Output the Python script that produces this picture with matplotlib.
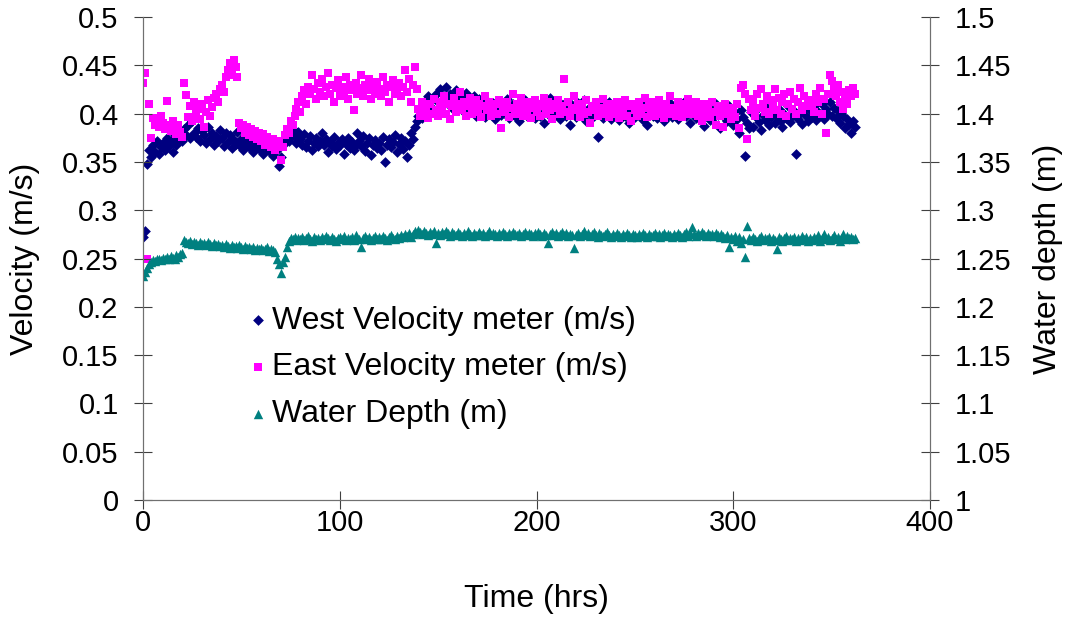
import matplotlib.pyplot as plt
import numpy as np

plt.rcParams['font.family'] = ['Liberation Sans', 'DejaVu Sans']

# time in hours, one reading per hour
hours = np.arange(0, 363)

west_vel = [
    0.272, 0.278, 0.348, 0.362, 0.355, 0.368, 0.360, 0.372, 0.358, 0.365,
    0.370, 0.362, 0.375, 0.366, 0.372, 0.360, 0.378, 0.368, 0.374, 0.380,
    0.372, 0.384, 0.378, 0.388, 0.375, 0.392, 0.380, 0.376, 0.385, 0.372,
    0.382, 0.378, 0.370, 0.386, 0.374, 0.380, 0.368, 0.377, 0.372, 0.383,
    0.375, 0.366, 0.380, 0.371, 0.378, 0.364, 0.373, 0.369, 0.381, 0.367,
    0.374, 0.362, 0.370, 0.376, 0.365, 0.372, 0.360, 0.368, 0.374, 0.363,
    0.369, 0.358, 0.366, 0.372, 0.361, 0.367, 0.356, 0.364, 0.362, 0.346,
    0.355, 0.368, 0.375, 0.380, 0.372, 0.378, 0.384, 0.376, 0.370, 0.381,
    0.374, 0.368, 0.379, 0.365, 0.372, 0.377, 0.362, 0.370, 0.375, 0.366,
    0.372, 0.380, 0.368, 0.374, 0.360, 0.371, 0.366, 0.376, 0.363, 0.370,
    0.367, 0.374, 0.358, 0.369, 0.375, 0.364, 0.371, 0.362, 0.368, 0.380,
    0.372, 0.366, 0.377, 0.361, 0.370, 0.375, 0.357, 0.368, 0.373, 0.364,
    0.370, 0.362, 0.376, 0.350, 0.368, 0.374, 0.365, 0.371, 0.378, 0.360,
    0.369, 0.375, 0.363, 0.372, 0.355, 0.368, 0.380, 0.374, 0.386, 0.392,
    0.398, 0.406, 0.395, 0.412, 0.404, 0.418, 0.408, 0.415, 0.402, 0.420,
    0.412, 0.425, 0.408, 0.418, 0.428, 0.414, 0.420, 0.406, 0.416, 0.424,
    0.410, 0.418, 0.404, 0.415, 0.421, 0.400, 0.412, 0.406, 0.418, 0.398,
    0.408, 0.415, 0.402, 0.410, 0.396, 0.413, 0.405, 0.400, 0.411, 0.394,
    0.406, 0.412, 0.399, 0.408, 0.402, 0.415, 0.395, 0.404, 0.410, 0.398,
    0.405, 0.392, 0.409, 0.401, 0.414, 0.397, 0.406, 0.400, 0.411, 0.395,
    0.403, 0.408, 0.398, 0.412, 0.390, 0.405, 0.400, 0.416, 0.396, 0.407,
    0.401, 0.413, 0.394, 0.406, 0.410, 0.398, 0.404, 0.388, 0.409, 0.402,
    0.396, 0.411, 0.403, 0.399, 0.414, 0.392, 0.405, 0.400, 0.408, 0.397,
    0.404, 0.376, 0.402, 0.410, 0.395, 0.407, 0.399, 0.412, 0.394, 0.405,
    0.400, 0.408, 0.393, 0.403, 0.411, 0.397, 0.406, 0.390, 0.402, 0.409,
    0.396, 0.404, 0.399, 0.412, 0.393, 0.405, 0.388, 0.401, 0.407, 0.398,
    0.403, 0.395, 0.410, 0.400, 0.406, 0.392, 0.404, 0.398, 0.411, 0.396,
    0.402, 0.408, 0.394, 0.405, 0.399, 0.412, 0.397, 0.403, 0.390, 0.406,
    0.400, 0.395, 0.409, 0.398, 0.404, 0.387, 0.401, 0.407, 0.393, 0.403,
    0.396, 0.410, 0.399, 0.385, 0.405, 0.398, 0.402, 0.392, 0.408, 0.395,
    0.388, 0.401, 0.394, 0.380, 0.404, 0.396, 0.356, 0.390, 0.385, 0.402,
    0.386, 0.397, 0.405, 0.391, 0.383, 0.399, 0.393, 0.406, 0.388, 0.396,
    0.401, 0.390, 0.398, 0.405, 0.392, 0.386, 0.400, 0.395, 0.408, 0.391,
    0.397, 0.403, 0.358, 0.394, 0.401, 0.389, 0.406, 0.398, 0.392, 0.404,
    0.396, 0.408, 0.393, 0.402, 0.399, 0.410, 0.394, 0.405, 0.400, 0.412,
    0.398, 0.406, 0.395, 0.403, 0.390, 0.401, 0.397, 0.385, 0.394, 0.389,
    0.380, 0.392, 0.386,
]

east_vel = [
    0.432, 0.442, 0.250, 0.410, 0.375, 0.395, 0.388, 0.392, 0.386, 0.398,
    0.390, 0.384, 0.413, 0.388, 0.382, 0.392, 0.385, 0.379, 0.388, 0.381,
    0.376, 0.432, 0.419, 0.396, 0.408, 0.392, 0.412, 0.400, 0.405, 0.394,
    0.410, 0.386, 0.402, 0.414, 0.398, 0.407, 0.416, 0.420, 0.412, 0.425,
    0.430, 0.422, 0.438, 0.445, 0.452, 0.440, 0.455, 0.448, 0.438, 0.390,
    0.385, 0.388, 0.380, 0.386, 0.378, 0.384, 0.376, 0.382, 0.374, 0.380,
    0.372, 0.379, 0.368, 0.376, 0.370, 0.365, 0.374, 0.362, 0.369, 0.372,
    0.352, 0.365, 0.378, 0.384, 0.380, 0.392, 0.388, 0.398, 0.405, 0.412,
    0.402, 0.418, 0.424, 0.410, 0.428, 0.420, 0.440, 0.425, 0.415, 0.432,
    0.422, 0.436, 0.418, 0.428, 0.442, 0.420, 0.430, 0.412, 0.426, 0.435,
    0.418, 0.428, 0.422, 0.438, 0.415, 0.430, 0.424, 0.404, 0.432, 0.420,
    0.427, 0.440, 0.418, 0.430, 0.424, 0.436, 0.415, 0.428, 0.420, 0.433,
    0.425, 0.418, 0.438, 0.422, 0.430, 0.412, 0.428, 0.435, 0.420, 0.426,
    0.432, 0.418, 0.428, 0.445, 0.422, 0.436, 0.412, 0.430, 0.448, 0.425,
    0.405, 0.398, 0.412, 0.402, 0.408, 0.395, 0.410, 0.400, 0.415, 0.404,
    0.398, 0.412, 0.406, 0.418, 0.400, 0.410, 0.394, 0.408, 0.416, 0.402,
    0.410, 0.422, 0.404, 0.412, 0.398, 0.408, 0.416, 0.400, 0.406, 0.414,
    0.402, 0.410, 0.396, 0.408, 0.418, 0.404, 0.412, 0.398, 0.406, 0.410,
    0.400, 0.414, 0.385, 0.408, 0.402, 0.412, 0.396, 0.406, 0.420, 0.400,
    0.410, 0.404, 0.416, 0.398, 0.408, 0.402, 0.412, 0.395, 0.406, 0.414,
    0.402, 0.410, 0.398, 0.408, 0.416, 0.400, 0.412, 0.404, 0.394, 0.410,
    0.406, 0.414, 0.400, 0.408, 0.436, 0.402, 0.412, 0.398, 0.406, 0.418,
    0.404, 0.410, 0.396, 0.408, 0.400, 0.414, 0.402, 0.390, 0.408, 0.404,
    0.412, 0.398, 0.406, 0.402, 0.415, 0.400, 0.408, 0.396, 0.410, 0.404,
    0.400, 0.412, 0.395, 0.406, 0.402, 0.414, 0.398, 0.408, 0.392, 0.410,
    0.404, 0.398, 0.412, 0.400, 0.406, 0.416, 0.396, 0.408, 0.402, 0.412,
    0.398, 0.406, 0.414, 0.400, 0.408, 0.395, 0.410, 0.404, 0.418, 0.400,
    0.406, 0.398, 0.412, 0.404, 0.396, 0.410, 0.402, 0.415, 0.400, 0.408,
    0.404, 0.412, 0.398, 0.406, 0.392, 0.410, 0.400, 0.408, 0.396, 0.412,
    0.402, 0.388, 0.408, 0.398, 0.404, 0.386, 0.410, 0.400, 0.406, 0.394,
    0.402, 0.396, 0.410, 0.385, 0.426, 0.430, 0.420, 0.374, 0.415, 0.404,
    0.412, 0.398, 0.420, 0.406, 0.425, 0.410, 0.402, 0.418, 0.400, 0.414,
    0.408, 0.425, 0.404, 0.416, 0.400, 0.412, 0.420, 0.398, 0.410, 0.422,
    0.405, 0.415, 0.400, 0.412, 0.426, 0.404, 0.418, 0.408, 0.412, 0.414,
    0.410, 0.402, 0.420, 0.412, 0.426, 0.400, 0.415, 0.380, 0.420, 0.440,
    0.434, 0.425, 0.418, 0.430, 0.412, 0.422, 0.405, 0.416, 0.410, 0.424,
    0.418, 0.426, 0.420,
]

depth = [
    1.232, 1.236, 1.240, 1.244, 1.246, 1.248, 1.247, 1.249, 1.250, 1.248,
    1.251, 1.250, 1.252, 1.249, 1.253, 1.251, 1.250, 1.254, 1.252, 1.255,
    1.256, 1.269, 1.267, 1.266, 1.268, 1.265, 1.267, 1.266, 1.264, 1.267,
    1.265, 1.266, 1.264, 1.267, 1.265, 1.263, 1.266, 1.264, 1.265, 1.263,
    1.264, 1.262, 1.265, 1.263, 1.261, 1.264, 1.262, 1.263, 1.261, 1.264,
    1.262, 1.260, 1.263, 1.261, 1.262, 1.260, 1.262, 1.259, 1.261, 1.260,
    1.261, 1.259, 1.260, 1.262, 1.258, 1.260, 1.259, 1.257, 1.250, 1.244,
    1.235, 1.246, 1.252, 1.262, 1.268, 1.271, 1.270, 1.272, 1.269, 1.271,
    1.270, 1.272, 1.269, 1.271, 1.273, 1.270, 1.268, 1.272, 1.270, 1.271,
    1.269, 1.272, 1.270, 1.273, 1.271, 1.269, 1.272, 1.270, 1.268, 1.271,
    1.272, 1.270, 1.273, 1.269, 1.271, 1.270, 1.272, 1.269, 1.274, 1.271,
    1.270, 1.262, 1.271, 1.273, 1.270, 1.272, 1.269, 1.271, 1.273, 1.270,
    1.272, 1.270, 1.273, 1.271, 1.269, 1.272, 1.274, 1.271, 1.270, 1.273,
    1.271, 1.274, 1.272, 1.275, 1.273, 1.276, 1.272, 1.275, 1.278, 1.276,
    1.280, 1.277, 1.275, 1.278, 1.276, 1.274, 1.277, 1.275, 1.278, 1.266,
    1.276, 1.274, 1.277, 1.275, 1.278, 1.276, 1.273, 1.277, 1.275, 1.274,
    1.277, 1.275, 1.273, 1.276, 1.274, 1.278, 1.275, 1.273, 1.276, 1.274,
    1.275, 1.277, 1.274, 1.276, 1.273, 1.275, 1.278, 1.274, 1.276, 1.275,
    1.273, 1.276, 1.274, 1.277, 1.275, 1.273, 1.276, 1.274, 1.277, 1.275,
    1.274, 1.276, 1.273, 1.275, 1.277, 1.274, 1.276, 1.275, 1.273, 1.276,
    1.274, 1.277, 1.275, 1.273, 1.276, 1.274, 1.266, 1.275, 1.277, 1.274,
    1.276, 1.273, 1.275, 1.277, 1.274, 1.276, 1.273, 1.275, 1.274, 1.261,
    1.274, 1.276, 1.273, 1.275, 1.278, 1.274, 1.276, 1.273, 1.275, 1.277,
    1.274, 1.272, 1.276, 1.274, 1.273, 1.275, 1.277, 1.274, 1.272, 1.275,
    1.273, 1.276, 1.274, 1.272, 1.275, 1.273, 1.276, 1.274, 1.272, 1.275,
    1.274, 1.272, 1.275, 1.273, 1.276, 1.274, 1.272, 1.275, 1.273, 1.274,
    1.276, 1.273, 1.275, 1.272, 1.274, 1.276, 1.273, 1.275, 1.274, 1.272,
    1.275, 1.273, 1.276, 1.274, 1.272, 1.275, 1.277, 1.273, 1.276, 1.283,
    1.275, 1.273, 1.276, 1.274, 1.277, 1.275, 1.273, 1.276, 1.274, 1.275,
    1.273, 1.276, 1.274, 1.272, 1.275, 1.273, 1.271, 1.274, 1.262, 1.272,
    1.270, 1.273, 1.268, 1.272, 1.266, 1.270, 1.252, 1.284, 1.271, 1.269,
    1.272, 1.270, 1.268, 1.271, 1.273, 1.269, 1.271, 1.270, 1.272, 1.268,
    1.271, 1.269, 1.260, 1.272, 1.270, 1.268, 1.271, 1.273, 1.269, 1.271,
    1.270, 1.272, 1.268, 1.271, 1.269, 1.273, 1.270, 1.272, 1.268, 1.271,
    1.269, 1.272, 1.270, 1.274, 1.268, 1.271, 1.275, 1.270, 1.272, 1.269,
    1.271, 1.274, 1.270, 1.272, 1.268, 1.271, 1.275, 1.270, 1.273, 1.271,
    1.272, 1.270, 1.271,
]

vel_ticks = ['0', '0.05', '0.1', '0.15', '0.2', '0.25', '0.3', '0.35', '0.4', '0.45', '0.5']
depth_ticks = ['1', '1.05', '1.1', '1.15', '1.2', '1.25', '1.3', '1.35', '1.4', '1.45', '1.5']

fig = plt.figure(figsize=(10.69, 6.20), dpi=100)
ax = fig.add_axes([0.1338, 0.1935, 0.7362, 0.7791])
ax2 = ax.twinx()

h1 = ax.scatter(hours, west_vel, marker='D', s=30, color='#000080', linewidths=0,
                label='West Velocity meter (m/s)')
h2 = ax.scatter(hours, east_vel, marker='s', s=40, color='#FF00FF', linewidths=0,
                label='East Velocity meter (m/s)')
h3 = ax2.scatter(hours, depth, marker='^', s=46, color='#008080', linewidths=0,
                 label='Water Depth (m)')

ax.set_xlim(0, 400)
ax.set_ylim(0, 0.5)
ax2.set_ylim(1, 1.5)
ax.set_xticks([0, 100, 200, 300, 400])
ax.set_yticks(np.linspace(0, 0.5, 11))
ax.set_yticklabels(vel_ticks)
ax2.set_yticks(np.linspace(1, 1.5, 11))
ax2.set_yticklabels(depth_ticks)

for a in (ax, ax2):
    a.spines['top'].set_visible(False)
    for s in ('left', 'right', 'bottom'):
        a.spines[s].set_color('#707070')
    a.tick_params(labelsize=21, color='#404040', direction='inout', length=13)
ax.tick_params(axis='x', pad=0)
ax.tick_params(axis='y', pad=11)
ax2.tick_params(axis='y', pad=11)

ax.set_xlabel('Time (hrs)', fontsize=23, labelpad=34)
ax.set_ylabel('Velocity (m/s)', fontsize=23, labelpad=16)
ax2.set_ylabel('Water depth (m)', fontsize=23, labelpad=16)

ax2.legend(handles=[h1, h2, h3], loc='upper left', bbox_to_anchor=(0.134, 0.402),
           frameon=False, fontsize=23, handletextpad=0.15, handlelength=0.6,
           labelspacing=0.52, borderpad=0, borderaxespad=0, scatterpoints=1)

fig.savefig('out.png', dpi=100)
